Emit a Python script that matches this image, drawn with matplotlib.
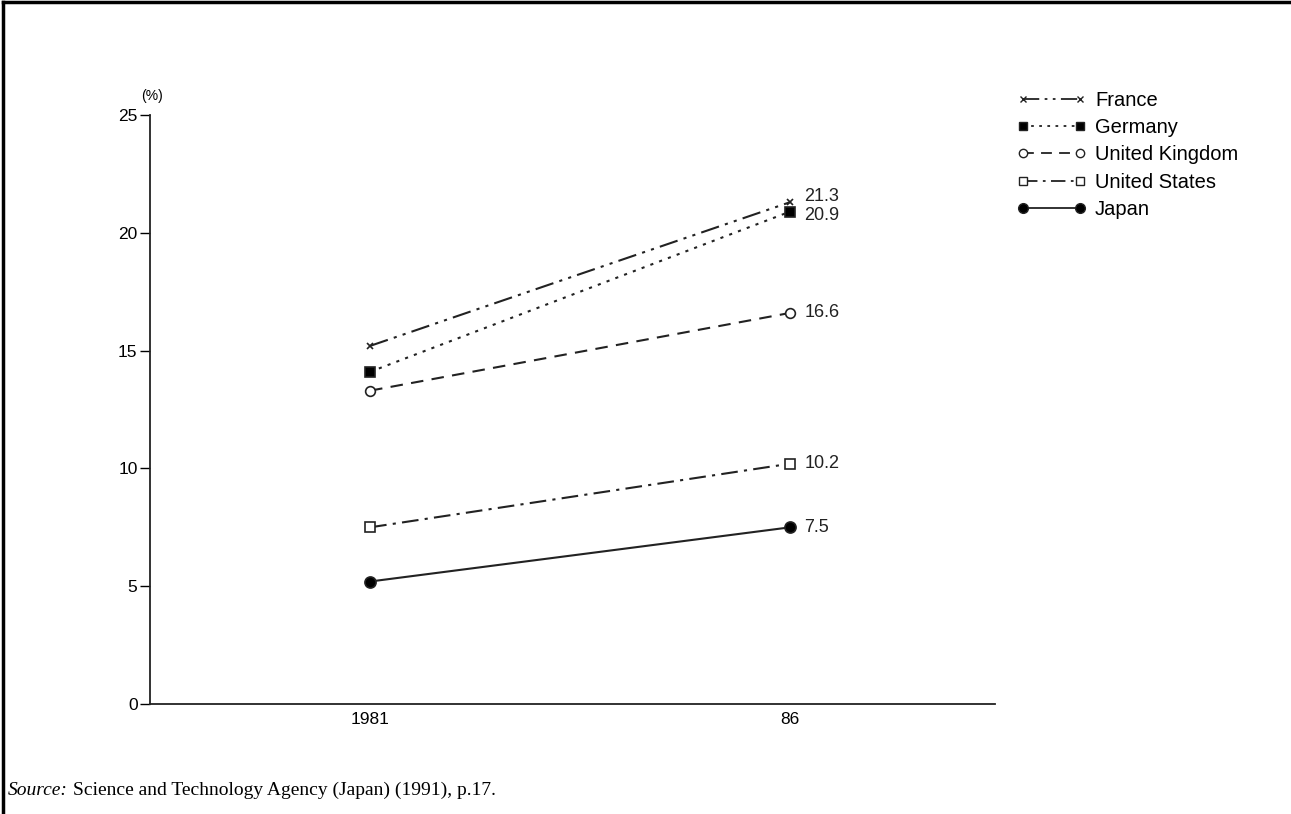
import matplotlib.pyplot as plt
from matplotlib.lines import Line2D

# data
years = [1981, 1986]
year_labels = ['1981', '86']
countries = ['France', 'Germany', 'United Kingdom', 'United States', 'Japan']
france = [15.2, 21.3]
germany = [14.1, 20.9]
uk = [13.3, 16.6]
us = [7.5, 10.2]
japan = [5.2, 7.5]

series = [france, germany, uk, us, japan]
markers = ['x', 's', 'o', 's', 'o']
fills = ['k', 'k', 'white', 'white', 'k']
sizes = [5, 7, 7, 7, 8]
styles = [(0, (9, 3, 1.5, 3, 1.5, 3)), (0, (1.5, 3)), (0, (6, 4)), (0, (8, 3, 1.5, 3)), '-']

plt.rcParams['font.family'] = ['Liberation Sans', 'DejaVu Sans']

fig = plt.figure(figsize=(12.91, 8.14), dpi=100)
ax = fig.add_axes([0.1162, 0.1351, 0.6545, 0.7236])

for vals, m, fc, ms, ls in zip(series, markers, fills, sizes, styles):
    ax.plot(years, vals, color='#222222', lw=1.5, linestyle=ls, marker=m,
            markersize=ms, markerfacecolor=fc, markeredgecolor='#222222',
            markeredgewidth=1.2)

# end labels
offsets = [0.25, -0.15, 0, 0, 0]
for vals, off in zip(series, offsets):
    ax.text(years[1] + 0.17, vals[1] + off, f'{vals[1]:.1f}', fontsize=13,
            va='center', ha='left', color='#222222')

ax.set_xlim(1978.38, 1988.44)
ax.set_ylim(0, 25)
ax.set_xticks(years)
ax.set_xticklabels(year_labels)
ax.set_yticks([0, 5, 10, 15, 20, 25])
ax.tick_params(axis='y', direction='out', length=7, width=1, labelsize=12.5, pad=2)
ax.tick_params(axis='x', length=0, labelsize=12.5, pad=6)
for sp in ['top', 'right']:
    ax.spines[sp].set_visible(False)
for sp in ['left', 'bottom']:
    ax.spines[sp].set_linewidth(1.3)
    ax.spines[sp].set_color('#222222')
ax.text(-0.01, 1.02, '(%)', transform=ax.transAxes, fontsize=10, ha='left', va='bottom')

handles = []
for m, fc, ms, ls in zip(markers, fills, sizes, styles):
    handles.append(Line2D([], [], color='#222222', lw=1.3, linestyle=ls, marker=m,
                          markersize=ms - 1, markerfacecolor=fc,
                          markeredgecolor='#222222'))
fig.legend(handles, countries, loc='upper left', bbox_to_anchor=(0.774, 0.91),
           frameon=False, fontsize=14.5, handlelength=3.4, labelspacing=0.4,
           numpoints=2, markerfirst=True, handletextpad=0.45)

src1 = fig.text(0.006, 0.018, 'Source:', fontsize=14, family='Liberation Serif',
                style='italic', ha='left', va='bottom')
fig.canvas.draw()
bb = src1.get_window_extent()
fig.text(bb.x1 / fig.bbox.width + 0.004, 0.018,
         'Science and Technology Agency (Japan) (1991), p.17.',
         fontsize=14, family='Liberation Serif', ha='left', va='bottom')

# page border, top and left
fig.add_artist(Line2D([0.002, 0.002], [0, 0.998], color='k', lw=2.5,
                      transform=fig.transFigure))
fig.add_artist(Line2D([0.002, 1], [0.998, 0.998], color='k', lw=2.5,
                      transform=fig.transFigure))

fig.savefig('out.png', dpi=100)
